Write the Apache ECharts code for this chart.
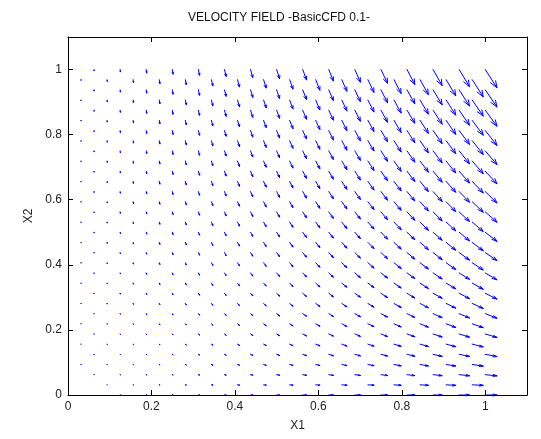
<!DOCTYPE html>
<html>
<head>
<meta charset="utf-8">
<script src="https://cdn.jsdelivr.net/npm/echarts@6/dist/echarts.min.js"></script>
<style>
html,body{margin:0;padding:0;background:#fff;}
#mainarea{width:541px;height:439px;}
</style>
</head>
<body>
<div id="mainarea"></div>
<script>
// grid points: staggered rows (even rows on x=i/16, odd rows on x=(2i+1)/32)
var X_EVEN=[0.0625,0.125,0.1875,0.25,0.3125,0.375,0.4375,0.5,0.5625,0.625,0.6875,0.75,0.8125,0.875,0.9375,1];
var Y_EVEN=[0,0.0625,0.125,0.1875,0.25,0.3125,0.375,0.4375,0.5,0.5625,0.625,0.6875,0.75,0.8125,0.875,0.9375,1];
var X_ODD=[0.03125,0.09375,0.15625,0.21875,0.28125,0.34375,0.40625,0.46875,0.53125,0.59375,0.65625,0.71875,0.78125,0.84375,0.90625,0.96875];
var Y_ODD=[0.03125,0.09375,0.15625,0.21875,0.28125,0.34375,0.40625,0.46875,0.53125,0.59375,0.65625,0.71875,0.78125,0.84375,0.90625,0.96875];

// horizontal velocity (x0.01), per column
var U_EVEN=[0,2,4,6,10,14,19,25,32,39,47,56,66,77,88,100];
var U_ODD=[0,1,2,5,8,12,17,22,28,35,43,52,61,71,82,94];

// vertical velocity (x0.01), one row per Y value, bottom to top
var V_EVEN=[
[0,0,0,0,0,0,0,0,0,0,0,0,0,0,0,0],
[-1,-2,-2,-3,-4,-5,-5,-6,-7,-8,-9,-9,-10,-11,-12,-13],
[-2,-3,-5,-6,-8,-9,-11,-13,-14,-16,-17,-19,-20,-22,-23,-25],
[-2,-5,-7,-9,-12,-14,-16,-19,-21,-23,-26,-28,-30,-33,-35,-38],
[-3,-6,-9,-13,-16,-19,-22,-25,-28,-31,-34,-38,-41,-44,-47,-50],
[-4,-8,-12,-16,-20,-23,-27,-31,-35,-39,-43,-47,-51,-55,-59,-63],
[-5,-9,-14,-19,-23,-28,-33,-38,-42,-47,-52,-56,-61,-66,-70,-75],
[-5,-11,-16,-22,-27,-33,-38,-44,-49,-55,-60,-66,-71,-77,-82,-88],
[-6,-13,-19,-25,-31,-38,-44,-50,-56,-63,-69,-75,-81,-88,-94,-100],
[-7,-14,-21,-28,-35,-42,-49,-56,-63,-70,-77,-84,-91,-98,-105,-113],
[-8,-16,-23,-31,-39,-47,-55,-63,-70,-78,-86,-94,-102,-109,-117,-125],
[-9,-17,-26,-34,-43,-52,-60,-69,-77,-86,-95,-103,-112,-120,-129,-138],
[-9,-19,-28,-38,-47,-56,-66,-75,-84,-94,-103,-113,-122,-131,-141,-150],
[-10,-20,-30,-41,-51,-61,-71,-81,-91,-102,-112,-122,-132,-142,-152,-163],
[-11,-22,-33,-44,-55,-66,-77,-88,-98,-109,-120,-131,-142,-153,-164,-175],
[-12,-23,-35,-47,-59,-70,-82,-94,-105,-117,-129,-141,-152,-164,-176,-188],
[-13,-25,-38,-50,-63,-75,-88,-100,-113,-125,-138,-150,-163,-175,-188,-200]
];
var V_ODD=[
[0,-1,-1,-1,-2,-2,-3,-3,-3,-4,-4,-4,-5,-5,-6,-6],
[-1,-2,-3,-4,-5,-6,-8,-9,-10,-11,-12,-13,-15,-16,-17,-18],
[-1,-3,-5,-7,-9,-11,-13,-15,-17,-19,-21,-22,-24,-26,-28,-30],
[-1,-4,-7,-10,-12,-15,-18,-21,-23,-26,-29,-31,-34,-37,-40,-42],
[-2,-5,-9,-12,-16,-19,-23,-26,-30,-33,-37,-40,-44,-47,-51,-54],
[-2,-6,-11,-15,-19,-24,-28,-32,-37,-41,-45,-49,-54,-58,-62,-67],
[-3,-8,-13,-18,-23,-28,-33,-38,-43,-48,-53,-58,-63,-69,-74,-79],
[-3,-9,-15,-21,-26,-32,-38,-44,-50,-56,-62,-67,-73,-79,-85,-91],
[-3,-10,-17,-23,-30,-37,-43,-50,-56,-63,-70,-76,-83,-90,-96,-103],
[-4,-11,-19,-26,-33,-41,-48,-56,-63,-71,-78,-85,-93,-100,-108,-115],
[-4,-12,-21,-29,-37,-45,-53,-62,-70,-78,-86,-94,-103,-111,-119,-127],
[-4,-13,-22,-31,-40,-49,-58,-67,-76,-85,-94,-103,-112,-121,-130,-139],
[-5,-15,-24,-34,-44,-54,-63,-73,-83,-93,-103,-112,-122,-132,-142,-151],
[-5,-16,-26,-37,-47,-58,-69,-79,-90,-100,-111,-121,-132,-142,-153,-163],
[-6,-17,-28,-40,-51,-62,-74,-85,-96,-108,-119,-130,-142,-153,-164,-176],
[-6,-18,-30,-42,-54,-67,-79,-91,-103,-115,-127,-139,-151,-163,-176,-188]
];

var ARROW_SCALE=0.028;
var FONT='"Liberation Sans", Arial, sans-serif';

var arrows=[];
for(var r=0;r<Y_EVEN.length;r++){
  for(var c=0;c<X_EVEN.length;c++){
    arrows.push([X_EVEN[c],Y_EVEN[r],U_EVEN[c]/100,V_EVEN[r][c]/100]);
  }
}
for(var r=0;r<Y_ODD.length;r++){
  for(var c=0;c<X_ODD.length;c++){
    arrows.push([X_ODD[c],Y_ODD[r],U_ODD[c]/100,V_ODD[r][c]/100]);
  }
}

// quiver-style arrow: shaft + open head (alpha/beta as in matlab quiver)
function renderArrow(params,api){
  var x=api.value(0),y=api.value(1);
  var u=api.value(2)*ARROW_SCALE,v=api.value(3)*ARROW_SCALE;
  var a=0.33,b=0.33;
  var p0=api.coord([x,y]);
  var p1=api.coord([x+u,y+v]);
  var h1=api.coord([x+u-a*(u+b*v),y+v-a*(v-b*u)]);
  var h2=api.coord([x+u-a*(u-b*v),y+v-a*(v+b*u)]);
  var st={stroke:'#0000ff',lineWidth:1,fill:null,lineCap:'round'};
  return {
    type:'group',
    children:[
      {type:'line',shape:{x1:p0[0],y1:p0[1],x2:p1[0],y2:p1[1]},style:st},
      {type:'polyline',shape:{points:[h1,p1,h2]},style:st}
    ]
  };
}

function axisBase(pos,showLabel){
  return {
    type:'value',
    position:pos,
    min:0,
    max:1.1,
    interval:0.2,
    z:10,
    axisLine:{show:true,onZero:false,lineStyle:{color:'#000',width:1}},
    axisTick:{show:true,inside:true,length:5,lineStyle:{color:'#000'}},
    axisLabel:{show:showLabel,showMaxLabel:false,color:'#222',fontSize:12,fontFamily:FONT,margin:6},
    splitLine:{show:false}
  };
}

var xBottom=axisBase('bottom',true);
xBottom.name='X1';
xBottom.nameLocation='middle';
xBottom.nameGap=25;
xBottom.nameTextStyle={color:'#222',fontSize:12,fontFamily:FONT};
var xTop=axisBase('top',false);

var yLeft=axisBase('left',true);
yLeft.name='X2';
yLeft.nameLocation='middle';
yLeft.nameGap=24;
yLeft.nameTextStyle={color:'#222',fontSize:12,fontFamily:FONT};
var yRight=axisBase('right',false);

var myChart=echarts.init(document.getElementById('mainarea'));
var option={
  animation:false,
  backgroundColor:'#fff',
  title:{
    text:'VELOCITY FIELD -BasicCFD 0.1-',
    left:188,
    top:12,
    padding:0,
    textStyle:{color:'#111',fontSize:12,fontWeight:'normal',fontFamily:FONT}
  },
  grid:{left:68,right:14,top:37,bottom:44,outerBoundsMode:'none'},
  xAxis:[xBottom,xTop],
  yAxis:[yLeft,yRight],
  series:[{
    type:'custom',
    xAxisIndex:0,
    yAxisIndex:0,
    renderItem:renderArrow,
    clip:false,
    data:arrows
  }]
};
myChart.setOption(option);
</script>
</body>
</html>
